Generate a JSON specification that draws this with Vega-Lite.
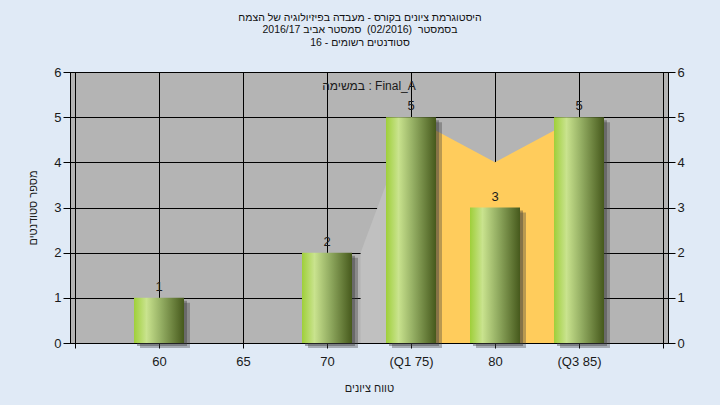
{
  "$schema": "https://vega.github.io/schema/vega-lite/v6.json",
  "width": 598,
  "height": 271,
  "autosize": {"type": "none"},
  "padding": {"left": 70, "top": 72, "right": 52, "bottom": 62},
  "background": "#e0eaf6",
  "title": {
    "text": ["היסטוגרמת ציונים בקורס - מעבדה בפיזיולוגיה של הצמח", "בסמסטר \u00a0(02/2016) \u00a0סמסטר אביב 2016/17", "16 - סטודנטים רשומים"],
    "anchor": "middle",
    "dx": -9,
    "offset": 8,
    "baseline": "bottom",
    "font": "Liberation Sans",
    "fontSize": 10.5,
    "fontWeight": "normal",
    "color": "#111111",
    "lineHeight": 12.5
  },
  "datasets": {
    "bars": [
      {"grade": 60, "count": 1},
      {"grade": 65, "count": 0},
      {"grade": 70, "count": 2},
      {"grade": 75, "count": 5},
      {"grade": 80, "count": 3},
      {"grade": 85, "count": 5}
    ],
    "low": [
      {"grade": 72, "count": 2},
      {"grade": 75, "count": 5}
    ],
    "iqr": [
      {"grade": 75, "count": 5},
      {"grade": 80, "count": 4},
      {"grade": 85, "count": 5}
    ]
  },
  "resolve": {"scale": {"y": "shared"}, "axis": {"y": "independent"}},
  "layer": [
    {
      "data": {"name": "low"},
      "mark": {"type": "area", "color": "#c0c0c0", "opacity": 1},
      "encoding": {
        "x": {
          "field": "grade", "type": "quantitative",
          "scale": {"domain": [55, 90], "nice": false, "zero": false},
          "axis": {
            "values": [55, 60, 65, 70, 75, 80, 85, 90],
            "labelExpr": "datum.value == 75 ? '(Q1 75)' : datum.value == 85 ? '(Q3 85)' : (datum.value == 55 || datum.value == 90) ? '' : datum.label",
            "grid": true,
            "tickSize": 5,
            "labelPadding": 7,
            "labelFlush": false,
            "labelOverlap": false,
            "title": "טווח ציונים",
            "titlePadding": 14
          }
        },
        "y": {
          "field": "count", "type": "quantitative",
          "scale": {"domain": [0, 6], "nice": false},
          "axis": {
            "orient": "left",
            "values": [0, 1, 2, 3, 4, 5, 6],
            "grid": true,
            "tickSize": 7,
            "labelPadding": 2,
            "labelFlush": false,
            "title": "מספר סטודנטים",
            "titlePadding": 15
          }
        }
      }
    },
    {
      "data": {"name": "iqr"},
      "mark": {"type": "area", "color": "#ffcc5c", "opacity": 1},
      "encoding": {
        "x": {"field": "grade", "type": "quantitative"},
        "y": {"field": "count", "type": "quantitative", "axis": null}
      }
    },
    {
      "data": {"name": "bars"},
      "mark": {"type": "bar", "width": 50, "color": "#3a3a3a", "opacity": 0.35, "xOffset": 6, "yOffset": 5},
      "encoding": {
        "x": {"field": "grade", "type": "quantitative"},
        "y": {"field": "count", "type": "quantitative", "axis": null}
      }
    },
    {
      "data": {"name": "bars"},
      "mark": {"type": "bar", "width": 50, "color": "#3a3a3a", "opacity": 0.4, "xOffset": 3, "yOffset": 3},
      "encoding": {
        "x": {"field": "grade", "type": "quantitative"},
        "y": {"field": "count", "type": "quantitative", "axis": null}
      }
    },
    {
      "data": {"name": "bars"},
      "mark": {
        "type": "bar",
        "width": 50,
        "color": {
          "gradient": "linear", "x1": 0, "x2": 1, "y1": 0, "y2": 0,
          "stops": [
            {"offset": 0, "color": "#9fcf3a"},
            {"offset": 0.25, "color": "#c9e38e"},
            {"offset": 0.55, "color": "#93ad62"},
            {"offset": 1, "color": "#46591c"}
          ]
        }
      },
      "encoding": {
        "x": {"field": "grade", "type": "quantitative"},
        "y": {
          "field": "count", "type": "quantitative",
          "axis": {
            "orient": "right",
            "values": [0, 1, 2, 3, 4, 5, 6],
            "grid": false,
            "tickSize": 7,
            "labelPadding": 2,
            "labelFlush": false,
            "title": null
          }
        }
      }
    },
    {
      "data": {"name": "bars"},
      "transform": [{"filter": "datum.count > 0"}],
      "mark": {"type": "text", "baseline": "alphabetic", "dy": -7, "font": "Liberation Sans", "fontSize": 13, "color": "#1a1a1a"},
      "encoding": {
        "x": {"field": "grade", "type": "quantitative"},
        "y": {"field": "count", "type": "quantitative", "axis": null},
        "text": {"field": "count", "type": "quantitative"}
      }
    },
    {
      "data": {"values": [{"label": "במשימה : Final_A"}]},
      "mark": {"type": "text", "baseline": "alphabetic", "align": "center", "font": "Liberation Sans", "fontSize": 12, "color": "#1a1a1a"},
      "encoding": {
        "x": {"datum": 72.5, "type": "quantitative"},
        "y": {"datum": 5.6, "type": "quantitative", "axis": null},
        "text": {"field": "label", "type": "nominal"}
      }
    }
  ],
  "config": {
    "view": {"stroke": "black", "strokeWidth": 1, "fill": "#b4b4b4"},
    "axis": {
      "domainColor": "black",
      "tickColor": "black",
      "gridColor": "black",
      "gridOpacity": 1,
      "gridWidth": 1,
      "labelColor": "#1a1a1a",
      "labelFont": "Liberation Sans",
      "labelFontSize": 13,
      "titleFont": "Liberation Sans",
      "titleFontSize": 11,
      "titleFontWeight": "normal",
      "titleColor": "#1a1a1a"
    }
  }
}
